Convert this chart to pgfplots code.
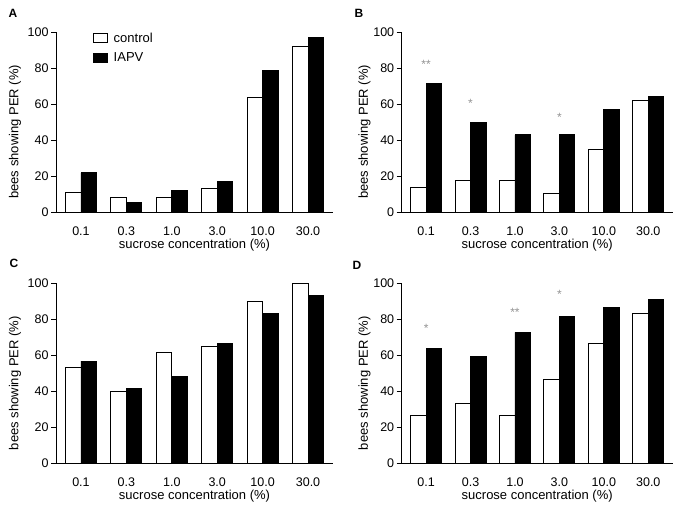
\documentclass[border=0pt]{standalone}
\usepackage{fontspec}
\setmainfont{Liberation Sans}
\usepackage{pgfplots}
\pgfplotsset{compat=1.18}

\pgfplotstableread{
x ctrl iapv
0 10.6 21.7
1 8.3  5.4
2 8.3  11.9
3 13.3 16.7
4 63.6 78.7
5 91.9 96.9
}\dataA
\pgfplotstableread{
x ctrl iapv
0 13.9 71.4
1 17.4 50.0
2 17.4 42.9
3 10.4 42.9
4 34.5 57.1
5 62.1 64.3
}\dataB
\pgfplotstableread{
x ctrl  iapv
0 53.3  56.7
1 40.0  41.7
2 61.7  48.3
3 65.0  66.7
4 90.0  83.3
5 100.0 93.3
}\dataC
\pgfplotstableread{
x ctrl iapv
0 26.7 63.6
1 33.3 59.1
2 26.7 72.7
3 46.7 81.8
4 66.7 86.4
5 83.3 90.9
}\dataD

\tikzset{
  sigstar/.style={font=\fontsize{12}{12}\selectfont, text=gray!85},
  panellabel/.style={font=\bfseries\fontsize{12}{12}\selectfont, anchor=center},
}
\pgfplotsset{
  panel/.style={
    scale only axis,
    height=180pt,
    ymin=0, ymax=100,
    xmin=-0.55, xmax=5.55,
    axis lines*=left,
    axis line style={line width=0.9pt},
    ytick={0,20,...,100},
    xtick={0,...,5},
    xticklabels={0.1,0.3,1.0,3.0,10.0,30.0},
    x tick style={draw=none},
    y tick style={black, line width=0.8pt},
    tick align=outside,
    major tick length=5pt,
    ybar=0pt,
    bar width=15.5pt,
    ticklabel style={font=\fontsize{12.5}{13}\selectfont},
    xticklabel style={yshift=-6pt},
    yticklabel style={xshift=1pt},
    label style={font=\fontsize{13}{15}\selectfont},
    /pgf/number format/assume math mode=true,
    xlabel={sucrose concentration (\%)},
    ylabel={bees showing PER (\%)},
    xlabel style={at={(axis description cs:0.5,0)}, anchor=center, yshift=-33pt},
  },
  ctrlbar/.style={draw=black, fill=white, line width=0.9pt},
  iapvbar/.style={draw=black, fill=black, line width=0.9pt},
}

\begin{document}
\begin{tikzpicture}
\useasboundingbox (0pt,0pt) rectangle (683pt,-507pt);

% A
\begin{axis}[panel, width=277pt, at={(56pt,-212pt)}, anchor=south west,
  ylabel style={at={(axis description cs:-0.148,0.445)}, anchor=center},
  legend style={at={(axis description cs:0.125,1.02)}, anchor=north west,
    draw=none, fill=none, font=\fontsize{13}{15}\selectfont,
    row sep=5pt, cells={anchor=west}, inner xsep=2pt},
  legend image code/.code={\draw[#1] (0pt,-4.5pt) rectangle (14pt,4.5pt); \path (18pt,0pt);}]
\addplot[ctrlbar] table[x=x, y=ctrl] {\dataA};
\addplot[iapvbar] table[x=x, y=iapv] {\dataA};
\legend{control, IAPV}
\end{axis}

% B
\begin{axis}[panel, width=271pt, at={(401.7pt,-212pt)}, anchor=south west,
  ylabel style={at={(axis description cs:-0.137,0.445)}, anchor=center}]
\addplot[ctrlbar] table[x=x, y=ctrl] {\dataB};
\addplot[iapvbar] table[x=x, y=iapv] {\dataB};
\node[sigstar] at (axis cs:0,82) {**};
\node[sigstar] at (axis cs:1,60.5) {*};
\node[sigstar] at (axis cs:3,52.7) {*};
\end{axis}

% C
\begin{axis}[panel, width=277pt, at={(56pt,-463.3pt)}, anchor=south west,
  ylabel style={at={(axis description cs:-0.148,0.445)}, anchor=center}]
\addplot[ctrlbar] table[x=x, y=ctrl] {\dataC};
\addplot[iapvbar] table[x=x, y=iapv] {\dataC};
\end{axis}

% D
\begin{axis}[panel, width=271pt, at={(401.7pt,-463.3pt)}, anchor=south west,
  ylabel style={at={(axis description cs:-0.137,0.445)}, anchor=center}]
\addplot[ctrlbar] table[x=x, y=ctrl] {\dataD};
\addplot[iapvbar] table[x=x, y=iapv] {\dataD};
\node[sigstar] at (axis cs:0,74.7) {*};
\node[sigstar] at (axis cs:2,84) {**};
\node[sigstar] at (axis cs:3,93.6) {*};
\end{axis}

\node[panellabel] at (13pt,-13pt) {A};
\node[panellabel] at (359pt,-13pt) {B};
\node[panellabel] at (14pt,-263pt) {C};
\node[panellabel] at (357pt,-265pt) {D};
\end{tikzpicture}
\end{document}
